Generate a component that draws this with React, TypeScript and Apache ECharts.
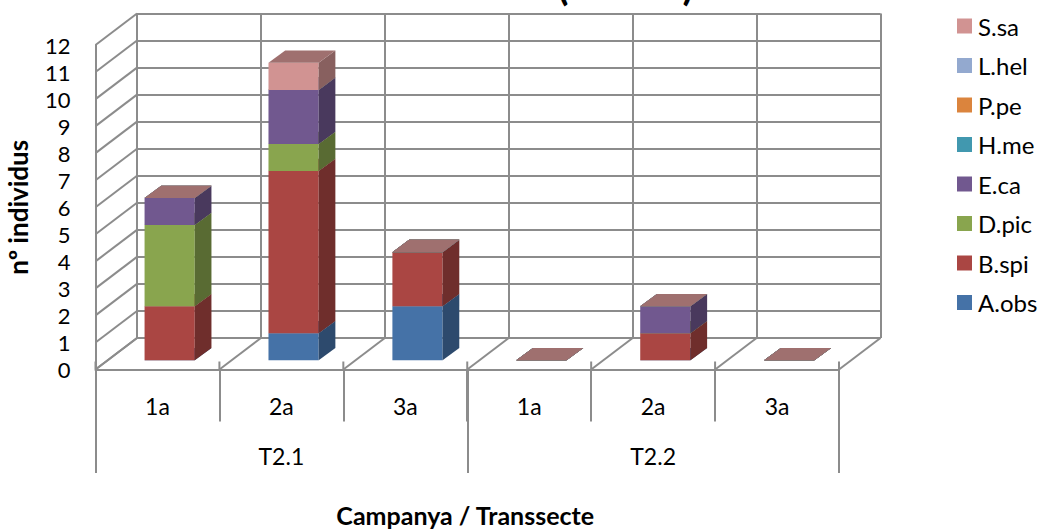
import React, { useEffect, useRef } from "react";
import * as echarts from "echarts";

const campaigns = ["1a", "2a", "3a", "1a", "2a", "3a"];
const transects = ["T2.1", "T2.2"];
const yTicks = [0, 1, 2, 3, 4, 5, 6, 7, 8, 9, 10, 11, 12];
const boundaries = [0, 1, 2, 3, 4, 5, 6];

// Stacking order runs bottom to top
const speciesNames = ["A.obs", "B.spi", "D.pic", "E.ca", "H.me", "P.pe", "L.hel", "S.sa"];
const speciesColors = ["#4572A7", "#AA4643", "#89A54E", "#71588F", "#4198AF", "#DB843D", "#93A9CF", "#D19392"];
const aObs = [0, 1, 2, 0, 0, 0];
const bSpi = [2, 6, 2, 0, 1, 0];
const dPic = [3, 1, 0, 0, 0, 0];
const eCa = [1, 2, 0, 0, 1, 0];
const hMe = [0, 0, 0, 0, 0, 0];
const pPe = [0, 0, 0, 0, 0, 0];
const lHel = [0, 0, 0, 0, 0, 0];
const sSa = [0, 1, 0, 0, 0, 0];
const speciesValues = [aObs, bSpi, dPic, eCa, hMe, pPe, lHel, sSa];

const FONT = "Lato";
const GRID_LINE = "#8c8c8c";
const LINE_WIDTH = 2;

// Oblique projection: how far the back wall sits from the front plane, in pixels
const WALL_DX = 41.5;
const WALL_DY = 31.5;
// Where the column sits inside the box, and how deep it is
const BAR_INSET_X = 12.2;
const BAR_INSET_Y = 9.2;
const BAR_DEPTH_X = 16.7;
const BAR_DEPTH_Y = 12.3;
const BAR_BAND_RATIO = 0.405;

const shade = (hex: string, k: number) => {
  const n = parseInt(hex.slice(1), 16);
  const c = [(n >> 16) & 255, (n >> 8) & 255, n & 255].map((v) => Math.round(v * k));
  return `rgb(${c[0]},${c[1]},${c[2]})`;
};

const stackedSeries = speciesNames.map((name, s) => {
  const color = speciesColors[s];
  const data = campaigns.map((_, i) => {
    let base = 0;
    for (let k = 0; k < s; k++) base += speciesValues[k][i];
    return [i, base, base + speciesValues[s][i]];
  });
  return {
    type: "custom",
    name,
    xAxisIndex: 0,
    yAxisIndex: 0,
    itemStyle: { color },
    encode: { x: 0, y: [1, 2] },
    data,
    z: 5 + s,
    clip: false,
    renderItem: (_p: any, api: any) => {
      const i = api.value(0);
      const lo = api.coord([i, api.value(1)]);
      const hi = api.coord([i, api.value(2)]);
      const w = api.size([1, 0])[0] * BAR_BAND_RATIO;
      const x0 = lo[0] + BAR_INSET_X - w / 2;
      const x1 = x0 + w;
      const y0 = lo[1] - BAR_INSET_Y;
      const y1 = hi[1] - BAR_INSET_Y;
      const poly = (points: number[][], fill: string) => ({
        type: "polygon",
        shape: { points },
        style: { fill },
      });
      return {
        type: "group",
        children: [
          poly([[x0, y0], [x1, y0], [x1, y1], [x0, y1]], color),
          poly(
            [[x1, y0], [x1 + BAR_DEPTH_X, y0 - BAR_DEPTH_Y], [x1 + BAR_DEPTH_X, y1 - BAR_DEPTH_Y], [x1, y1]],
            shade(color, 0.65),
          ),
          poly(
            [[x0, y1], [x1, y1], [x1 + BAR_DEPTH_X, y1 - BAR_DEPTH_Y], [x0 + BAR_DEPTH_X, y1 - BAR_DEPTH_Y]],
            shade(color, 0.76),
          ),
        ],
      };
    },
  };
});

const lineStyle = { stroke: GRID_LINE, lineWidth: LINE_WIDTH };

// Left wall: one slanted line per value tick
const sideWallSeries = {
  type: "custom",
  xAxisIndex: 0,
  yAxisIndex: 0,
  data: yTicks.map((v) => [0, v]),
  encode: { x: 0, y: 1 },
  z: 2,
  clip: false,
  renderItem: (params: any, api: any) => {
    const y = api.coord([0, api.value(1)])[1];
    const x = params.coordSys.x;
    return {
      type: "line",
      shape: { x1: x, y1: y, x2: x + WALL_DX, y2: y - WALL_DY },
      style: lineStyle,
    };
  },
};

// Floor: a slanted line and a short riser at each category boundary
const floorSeries = {
  type: "custom",
  xAxisIndex: 0,
  yAxisIndex: 0,
  data: boundaries.map(() => [0, 0]),
  encode: { x: 0, y: 1 },
  z: 2,
  clip: false,
  renderItem: (params: any, api: any) => {
    const b = boundaries[params.dataIndex];
    const band = api.size([1, 0])[0];
    const x = params.coordSys.x + b * band;
    const y = api.coord([0, 0])[1];
    return {
      type: "group",
      children: [
        { type: "line", shape: { x1: x, y1: y, x2: x + WALL_DX, y2: y - WALL_DY }, style: lineStyle },
        { type: "line", shape: { x1: x, y1: y, x2: x, y2: y - 8 }, style: lineStyle },
      ],
    };
  },
};

// Axis labels and names lie outside the plot box; the box itself stays put
const FRONT_GRID = { left: 95.5, top: 45, width: 743.5, height: 324.5, outerBoundsMode: "none" };

const option = {
  animation: false,
  backgroundColor: "#ffffff",
  textStyle: { fontFamily: FONT },
  grid: [
    FRONT_GRID,
    { left: 95.5 + WALL_DX, top: 45 - WALL_DY, width: 743.5, height: 324.5, outerBoundsMode: "none" },
    FRONT_GRID,
  ],
  xAxis: [
    {
      type: "category",
      gridIndex: 0,
      data: campaigns,
      axisLine: { show: true, lineStyle: { color: GRID_LINE, width: 2 } },
      axisTick: { show: true, length: 52, lineStyle: { color: GRID_LINE, width: 2 } },
      axisLabel: { color: "#000", fontSize: 23, fontFamily: FONT, margin: 25, interval: 0 },
      splitLine: { show: false },
    },
    {
      type: "category",
      gridIndex: 1,
      data: campaigns,
      axisLine: { show: false },
      axisTick: { show: false },
      axisLabel: { show: false },
      splitLine: { show: true, interval: 0, lineStyle: { color: GRID_LINE, width: LINE_WIDTH } },
    },
    {
      type: "category",
      gridIndex: 2,
      data: transects,
      axisLine: { show: false },
      axisTick: { show: true, length: 103.5, lineStyle: { color: GRID_LINE, width: 2 } },
      axisLabel: { color: "#000", fontSize: 23, fontFamily: FONT, margin: 75 },
      name: "Campanya / Transsecte",
      nameLocation: "middle",
      nameGap: 133,
      nameTextStyle: { color: "#000", fontSize: 25, lineHeight: 25, fontWeight: "bold", fontFamily: FONT, padding: [0, 4, 0, 0] },
      splitLine: { show: false },
    },
  ],
  yAxis: [
    {
      type: "value",
      gridIndex: 0,
      min: 0,
      max: 12,
      interval: 1,
      axisLine: { show: true, lineStyle: { color: GRID_LINE, width: LINE_WIDTH } },
      axisTick: { show: false },
      axisLabel: { color: "#000", fontSize: 22, fontFamily: FONT, margin: 25, padding: [8, 0, 0, 0] },
      splitLine: { show: false },
      name: "nº individus",
      nameLocation: "middle",
      nameGap: 65,
      nameTextStyle: { color: "#000", fontSize: 26, fontWeight: "bold", fontFamily: FONT },
    },
    {
      type: "value",
      gridIndex: 1,
      min: 0,
      max: 12,
      interval: 1,
      axisLine: { show: false },
      axisTick: { show: false },
      axisLabel: { show: false },
      splitLine: { show: true, lineStyle: { color: GRID_LINE, width: LINE_WIDTH } },
    },
    {
      type: "value",
      gridIndex: 2,
      min: 0,
      max: 12,
      interval: 1,
      axisLine: { show: false },
      axisTick: { show: false },
      axisLabel: { show: false },
      splitLine: { show: false },
    },
  ],
  legend: {
    orient: "vertical",
    left: 952,
    top: 9,
    icon: "rect",
    itemWidth: 15,
    itemHeight: 15,
    itemGap: 15.5,
    selectedMode: false,
    data: [...speciesNames].reverse(),
    textStyle: { color: "#000", fontSize: 24, fontFamily: FONT, lineHeight: 20, padding: [0, 0, 0, 1] },
  },
  // The heading runs off the top edge, so only the ends of its brackets show
  graphic: [
    { type: "text", left: 557.5, top: -35, style: { text: "(", fontSize: 40, fontWeight: "bold", fontFamily: FONT, fill: "#000" } },
    { type: "text", left: 682.5, top: -35, style: { text: ")", fontSize: 40, fontWeight: "bold", fontFamily: FONT, fill: "#000" } },
  ],
  series: [sideWallSeries, floorSeries, ...stackedSeries],
};

export default function App() {
  const ref = useRef<HTMLDivElement>(null);
  useEffect(() => {
    const chart = echarts.init(ref.current!, undefined, { renderer: "svg" });
    chart.setOption(option as any);
    return () => chart.dispose();
  }, []);
  return <div ref={ref} style={{ position: "fixed", left: 0, top: 0, width: 1040, height: 529 }} />;
}
